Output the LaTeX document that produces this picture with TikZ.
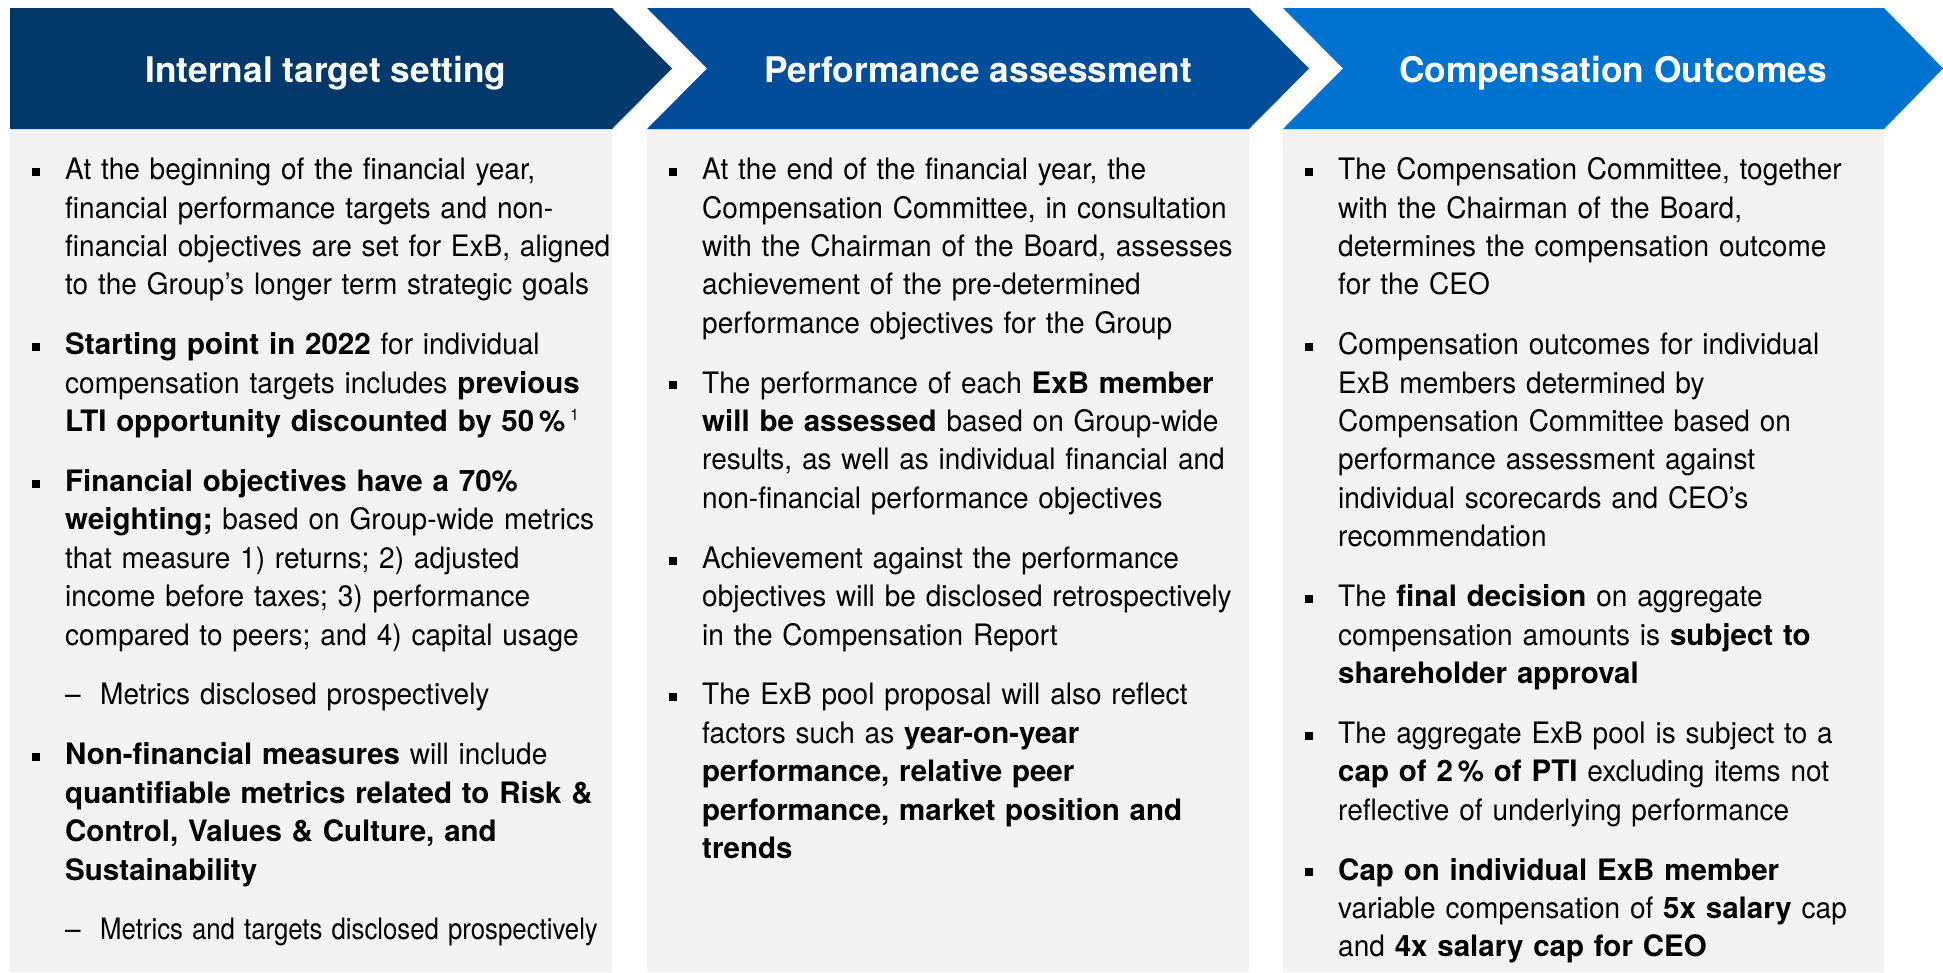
\documentclass[tikz,border=0pt]{standalone}
\usepackage{fontspec}
\setmainfont{TeX Gyre Heros}[UprightFeatures={FakeStretch=0.95}]
\usepackage{tikz}

\definecolor{stagedark}{HTML}{03396A}
\definecolor{stagemid}{HTML}{024E9B}
\definecolor{stagelight}{HTML}{0072CF}
\definecolor{panelgray}{HTML}{F2F2F2}

\newenvironment{points}
    {\begin{list}{\rule[3.7pt]{8pt}{8pt}}
        {\setlength{\leftmargin}{55pt}\setlength{\labelwidth}{8pt}
         \setlength{\labelsep}{25pt}\setlength{\itemsep}{21.5pt}
         \setlength{\parsep}{0pt}\setlength{\topsep}{0pt}
         \setlength{\partopsep}{0pt}\setlength{\listparindent}{0pt}}}
    {\end{list}}

\begin{document}
\begin{tikzpicture}
        [
            x = 1pt, y = 1pt,
            stage/.style = {anchor = base, text = white, inner sep = 0pt, font = \fontsize{35.3}{42}\selectfont\bf},
            column/.style = {anchor = north west, inner sep = 0pt, text width = 640pt, align = left, font = \fontsize{29.5}{38.4}\selectfont}
        ]

        \fill[white] (0,0) rectangle (1943,-972);
        \fill[panelgray] (10,-129) rectangle (612,-972);
        \fill[panelgray] (647,-129) rectangle (1249,-972);
        \fill[panelgray] (1283,-129) rectangle (1884,-972);

        \fill[stagedark] (10,-8) -- (612,-8) -- (672,-68.5) -- (612,-129) -- (10,-129) -- cycle;
        \fill[stagemid] (647,-8) -- (1249,-8) -- (1309,-68.5) -- (1249,-129) -- (647,-129) -- (707,-68.5) -- cycle;
        \fill[stagelight] (1283,-8) -- (1884,-8) -- (1943,-68.5) -- (1884,-129) -- (1283,-129) -- (1343,-68.5) -- cycle;

        \node[stage] (setting) at (326,-82) {Internal target setting};
        \node[stage] (assessment) at (978,-82) {Performance assessment};
        \node[stage] (outcomes) at (1613,-82) {Compensation Outcomes};

        \node[column] (settingtext) at (10,-141) {\begin{points}
            \item \strut At the beginning of the financial year,\\
            financial performance targets and non-\\
            financial objectives are set for ExB, aligned\\
            to the Group's longer term strategic goals
            \item {\bf Starting point in 2022} for individual\\
            compensation targets includes {\bf previous}\\
            {\bf LTI opportunity discounted by 50\,\%}\,\raisebox{11pt}{\fontsize{16}{16}\selectfont 1}
            \item {\bf Financial objectives have a 70\%}\\
            {\bf weighting;} based on Group-wide metrics\\
            that measure 1) returns; 2) adjusted\\
            income before taxes; 3) performance\\
            compared to peers; and 4) capital usage
            \item[] \makebox[35pt][l]{--}Metrics disclosed prospectively
            \item {\bf Non-financial measures} will include\\
            {\bf quantifiable metrics related to Risk \&}\\
            {\bf Control, Values \& Culture, and}\\
            {\bf Sustainability}
            \item[] \makebox[35pt][l]{--}\scalebox{0.92}[1]{Metrics and targets disclosed prospectively}
        \end{points}};

        \node[column] (assessmenttext) at (647,-141) {\begin{points}
            \item \strut At the end of the financial year, the\\
            Compensation Committee, in consultation\\
            with the Chairman of the Board, assesses\\
            achievement of the pre-determined\\
            performance objectives for the Group
            \item The performance of each {\bf ExB member}\\
            {\bf will be assessed} based on Group-wide\\
            results, as well as individual financial and\\
            non-financial performance objectives
            \item Achievement against the performance\\
            objectives will be disclosed retrospectively\\
            in the Compensation Report
            \item The ExB pool proposal will also reflect\\
            factors such as {\bf year-on-year}\\
            {\bf performance, relative peer}\\
            {\bf performance, market position and}\\
            {\bf trends}
        \end{points}};

        \node[column] (outcomestext) at (1283,-141) {\begin{points}
            \item \strut The Compensation Committee, together\\
            with the Chairman of the Board,\\
            determines the compensation outcome\\
            for the CEO
            \item Compensation outcomes for individual\\
            ExB members determined by\\
            Compensation Committee based on\\
            performance assessment against\\
            individual scorecards and CEO's\\
            recommendation
            \item The {\bf final decision} on aggregate\\
            compensation amounts is {\bf subject to}\\
            {\bf shareholder approval}
            \item The aggregate ExB pool is subject to a\\
            {\bf cap of 2\,\% of PTI} excluding items not\\
            reflective of underlying performance
            \item {\bf Cap on individual ExB member}\\
            variable compensation of {\bf 5x salary} cap\\
            and {\bf 4x salary cap for CEO}
        \end{points}};

        \useasboundingbox (0,0) rectangle (1943,-972);
\end{tikzpicture}
\end{document}
